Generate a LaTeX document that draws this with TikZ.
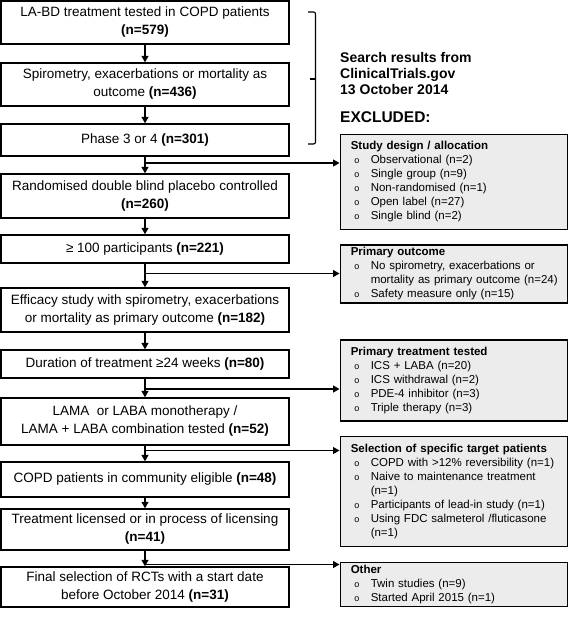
\documentclass[tikz,border=0pt]{standalone}
\usepackage{fontspec}
\setmainfont{Liberation Sans}
\usetikzlibrary{arrows.meta}
\newcommand{\bul}{\makebox[24.5pt][l]{\hspace{8pt}\fontsize{9}{9}\selectfont o}}
\newcommand{\cont}{\hspace*{24.5pt}}
\newcommand{\hd}[1]{\hspace*{4.5pt}\textbf{#1}}
\definecolor{exfill}{RGB}{236,236,236}
\tikzset{
  mainbox/.style={draw, line width=1.4pt, minimum width=288pt, align=center, inner sep=0pt,
    font=\fontsize{13.5}{18}\selectfont},
  exbox/.style={draw, line width=1.5pt, fill=exfill, minimum width=227pt, text width=215pt,
    inner xsep=6pt, inner ysep=0pt, align=left, anchor=north west,
    font=\fontsize{11.5}{14}\selectfont},
  arr/.style={-{Triangle[length=6.5pt,width=7pt]}, line width=1.2pt},
}
\begin{document}
\begin{tikzpicture}[x=1pt,y=-1pt]
\useasboundingbox (0,0) rectangle (567,623);
% main boxes
\node[mainbox, minimum height=43pt] (b1) at (145,22.5) {LA-BD treatment tested in COPD patients\\ \textbf{(n=579)}};
\node[mainbox, minimum height=43pt] (b2) at (145,84.5) {Spirometry, exacerbations or mortality as\\ outcome \textbf{(n=436)}};
\node[mainbox, minimum height=32pt] (b3) at (145,140) {Phase 3 or 4 \textbf{(n=301)}};
\node[mainbox, minimum height=44pt] (b4) at (145,196) {Randomised double blind placebo controlled\\ \textbf{(n=260)}};
\node[mainbox, minimum height=28pt] (b5) at (145,249) {≥ 100 participants \textbf{(n=221)}};
\node[mainbox, minimum height=44pt] (b6) at (145,310) {Efficacy study with spirometry, exacerbations\\ or mortality as primary outcome \textbf{(n=182)}};
\node[mainbox, minimum height=28pt] (b7) at (145,364) {Duration of treatment ≥24 weeks \textbf{(n=80)}};
\node[mainbox, minimum height=47pt] (b8) at (145,421.5) {LAMA\ \ or LABA monotherapy /\\ LAMA + LABA combination tested \textbf{(n=52)}};
\node[mainbox, minimum height=35pt] (b9) at (145,479.5) {COPD patients in community eligible \textbf{(n=48)}};
\node[mainbox, minimum height=41pt] (b10) at (145,529.5) {Treatment licensed or in process of licensing\\ \textbf{(n=41)}};
\node[mainbox, minimum height=40pt] (b11) at (145,587) {Final selection of RCTs with a start date\\ before October 2014 \textbf{(n=31)}};
% bracket and headings
\draw[line width=1.2pt, rounded corners=2pt] (308,12) -- (315.5,12) -- (315.5,144) -- (308,144);
\draw[line width=1.2pt] (315.5,79) -- (310,79);
\node[anchor=west, align=left, inner sep=0pt, font=\bfseries\fontsize{14}{16}\selectfont] (search) at (340,74)
  {Search results from\\ ClinicalTrials.gov\\ 13 October 2014};
\node[anchor=west, inner sep=0pt, font=\bfseries\fontsize{15.5}{17}\selectfont] (excl) at (340,117) {EXCLUDED:};
% excluded boxes
\node[exbox, minimum height=95pt] (e1) at (339.5,133.5) {\hd{Study design / allocation}\\
\bul Observational (n=2)\\ \bul Single group (n=9)\\ \bul Non-randomised (n=1)\\ \bul Open label (n=27)\\ \bul Single blind (n=2)};
\node[exbox, minimum height=58pt] (e2) at (339.5,244) {\hd{Primary outcome}\\
\bul No spirometry, exacerbations or\\ \cont mortality as primary outcome (n=24)\\ \bul Safety measure only (n=15)};
\node[exbox, minimum height=81pt] (e3) at (339.5,339) {\hd{Primary treatment tested}\\
\bul ICS + LABA (n=20)\\ \bul ICS withdrawal (n=2)\\ \bul PDE-4 inhibitor (n=3)\\ \bul Triple therapy (n=3)};
\node[exbox, minimum height=110pt] (e4) at (339.5,435.5) {\hd{Selection of specific target patients}\\
\bul COPD with >12\% reversibility (n=1)\\ \bul Naive to maintenance treatment\\ \cont (n=1)\\ \bul Participants of lead-in study (n=1)\\ \bul Using FDC salmeterol /fluticasone\\ \cont (n=1)};
\node[exbox, minimum height=44pt] (e5) at (339.5,561.5) {\hd{Other}\\
\bul Twin studies (n=9)\\ \bul Started April 2015 (n=1)};
% main arrows
\draw[arr] (b1) -- (b2);
\draw[arr] (b2) -- (b3);
\draw[arr] (b3) -- (b4);
\draw[arr] (b4) -- (b5);
\draw[arr] (b5) -- (b6);
\draw[arr] (b6) -- (b7);
\draw[arr] (b7) -- (b8);
\draw[arr] (b8) -- (b9);
\draw[arr] (b9) -- (b10);
\draw[arr] (b10) -- (b11);
% branches
\coordinate (j1) at (145,163);
\coordinate (j2) at (145,273.5);
\coordinate (j3) at (145,389);
\coordinate (j4) at (145,450.5);
\coordinate (j5) at (145,564.5);
\draw[arr] (j1) -- (j1 -| e1.west);
\draw[arr] (j2) -- (j2 -| e2.west);
\draw[arr] (j3) -- (j3 -| e3.west);
\draw[arr] (j4) -- (j4 -| e4.west);
\draw[arr] (j5) -- (j5 -| e5.west);
\end{tikzpicture}
\end{document}
